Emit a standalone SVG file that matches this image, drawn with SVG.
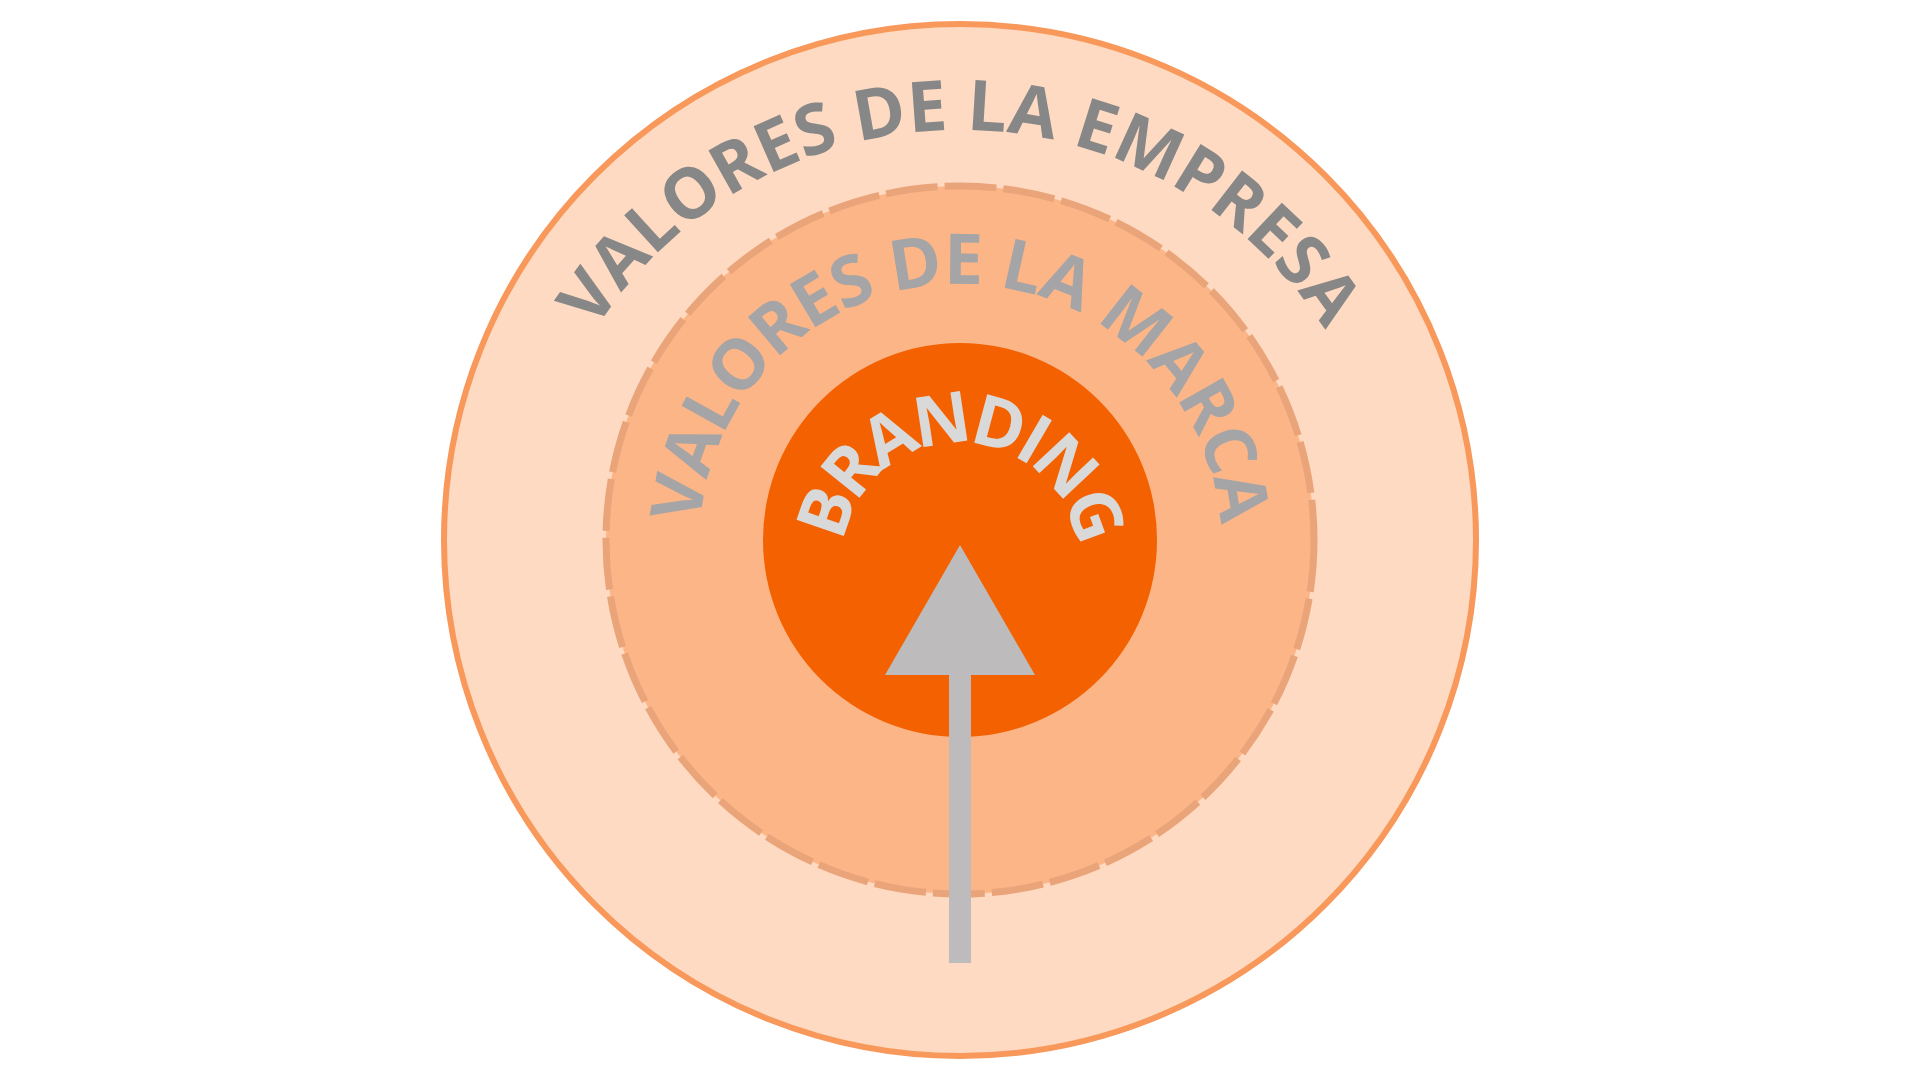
<svg xmlns="http://www.w3.org/2000/svg" width="1920" height="1080" viewBox="0 0 1920 1080">
  <style>
    .lbl { font-family: "Open Sans", "Liberation Sans", sans-serif; font-weight: 700; font-size: 70px; }
    .t-empresa { fill: #878787; }
    .t-marca { fill: #A5A4A6; letter-spacing: -1.2px; }
    .t-brand { fill: #D9D9D9; letter-spacing: -6px; }
  </style>
  <defs>
    <path id="arcEmpresa" d="M960,996 A433,433 0 0 1 960,130 A433,433 0 0 1 960,996"/>
    <path id="arcMarca" d="M960,806 A261,261 0 0 1 960,284 A261,261 0 0 1 960,806"/>
    <path id="arcBrand" d="M960,679 A118,118 0 0 1 960,443 A118,118 0 0 1 960,679"/>
  </defs>
  <rect width="1920" height="1080" fill="#FFFFFF"/>
  <g id="node-empresa">
    <circle cx="960" cy="540" r="516" fill="#FDDAC1" stroke="#F8985A" stroke-width="6"/>
    <text class="lbl t-empresa"><textPath href="#arcEmpresa" startOffset="50%" text-anchor="middle">VALORES DE LA EMPRESA</textPath></text>
  </g>
  <g id="node-marca">
    <circle cx="960" cy="540" r="354" fill="#FCB587" stroke="#EAA479" stroke-width="7" stroke-dasharray="52 7"/>
    <text class="lbl t-marca"><textPath href="#arcMarca" startOffset="50%" text-anchor="middle">VALORES DE LA MARCA</textPath></text>
  </g>
  <g id="node-branding">
    <circle cx="960" cy="540" r="197" fill="#F46100"/>
    <text class="lbl t-brand"><textPath href="#arcBrand" startOffset="50%" text-anchor="middle">BRANDING</textPath></text>
  </g>
  <g id="connectors">
    <rect x="949" y="674" width="22" height="289" fill="#BDBBBB"/>
    <polygon points="960,545 1035,675 885,675" fill="#BDBBBB"/>
  </g>
</svg>
